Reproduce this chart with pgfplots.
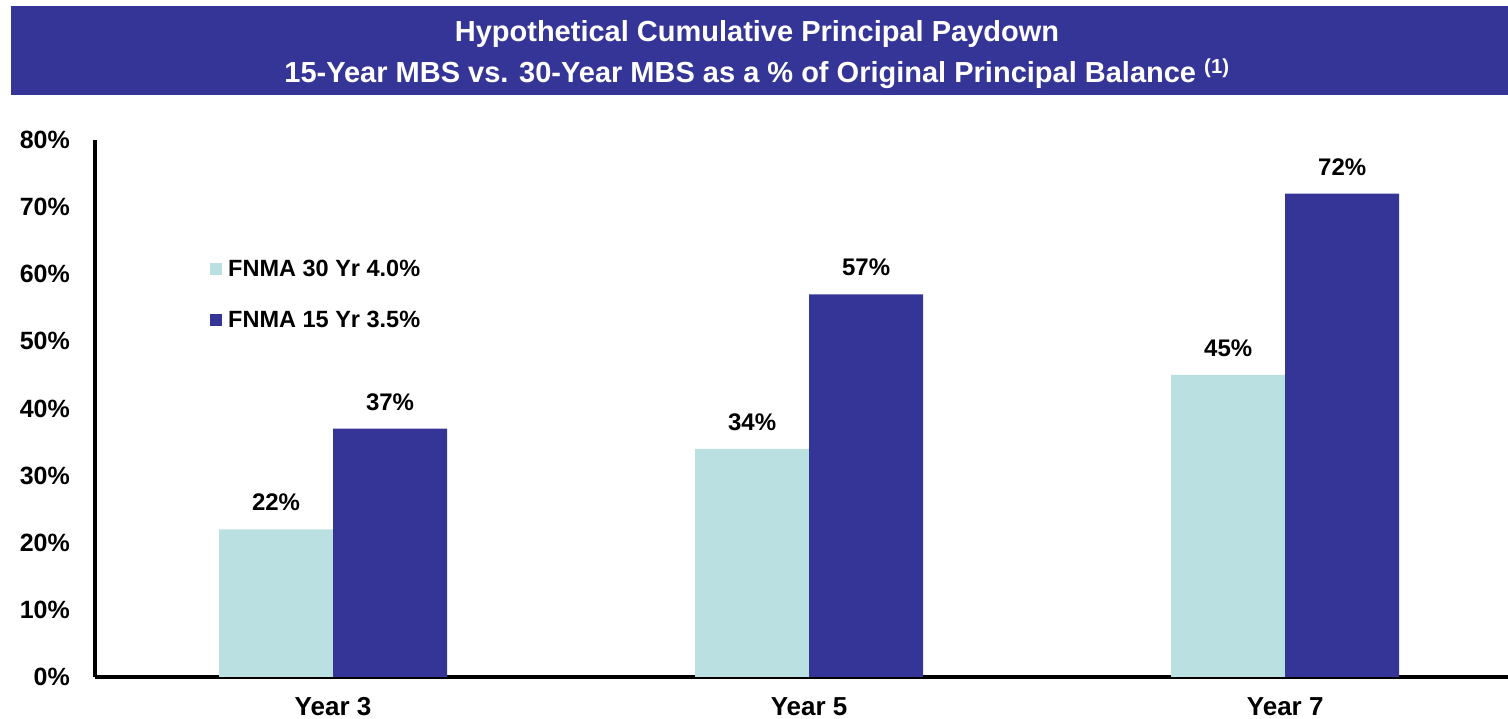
\documentclass[border=0pt]{standalone}
\usepackage{pgfplots}
\pgfplotsset{compat=1.18}
\usepackage{fontspec}
\setmainfont{Liberation Sans}
\definecolor{navy}{HTML}{353598}
\definecolor{lightb}{HTML}{BAE0E2}
\begin{document}
\begin{tikzpicture}
\path[use as bounding box] (0pt,0pt) rectangle (1508pt,719pt);
\fill[navy] (11pt,624pt) rectangle (1508pt,713pt);
\node[text=white,font=\fontsize{29}{34}\selectfont\bfseries] at (757pt,685pt) {Hypothetical Cumulative Principal Paydown};
\node[text=white,font=\fontsize{29}{34}\selectfont\bfseries] at (757pt,645pt) {15-Year MBS vs. 30-Year MBS as a \% of Original Principal Balance \textsuperscript{(1)}};
\begin{axis}[
  at={(95pt,42pt)}, anchor=south west,
  scale only axis, width=1413pt, height=537pt,
  clip=false,
  ybar=0pt, bar width=114pt,
  xmin=-0.5, xmax=2.468,
  ymin=0, ymax=80,
  ytick={0,10,...,80},
  xtick={0,1,2},
  xticklabels={Year 3,Year 5,Year 7},
  axis x line*=bottom, axis y line*=left,
  axis line style={line width=3.5pt,-},
  major tick length=0pt,
  /pgf/number format/assume math mode=true,
  yticklabel={\pgfmathprintnumber{\tick}\%},
  yticklabel style={font=\fontsize{25}{30}\selectfont\bfseries, anchor=east, inner sep=0pt, xshift=-25pt},
  xticklabel style={font=\fontsize{26}{30}\selectfont\bfseries, anchor=north, inner sep=0pt, yshift=-20pt},
  nodes near coords={\pgfmathprintnumber{\pgfplotspointmeta}\%},
  nodes near coords style={font=\fontsize{24}{28}\selectfont\bfseries, anchor=south, inner sep=0pt, yshift=18pt},
  legend image code/.code={\fill[#1] (0pt,-6pt) rectangle (12pt,6pt);},
  legend style={at={(0.0814,0.776)}, anchor=north west, draw=none, fill=none, inner sep=0pt,
    font=\fontsize{23.5}{28}\selectfont\bfseries, nodes={inner sep=0pt},
    /tikz/column sep=6pt, /tikz/row sep=33pt},
  legend cell align=left,
]
\addplot[draw=none, fill=lightb] coordinates {(0,22) (1,34) (2,45)};
\addlegendentry{FNMA 30 Yr 4.0\%}
\addplot[draw=none, fill=navy] coordinates {(0,37) (1,57) (2,72)};
\addlegendentry{FNMA 15 Yr 3.5\%}
\end{axis}
\end{tikzpicture}
\end{document}
